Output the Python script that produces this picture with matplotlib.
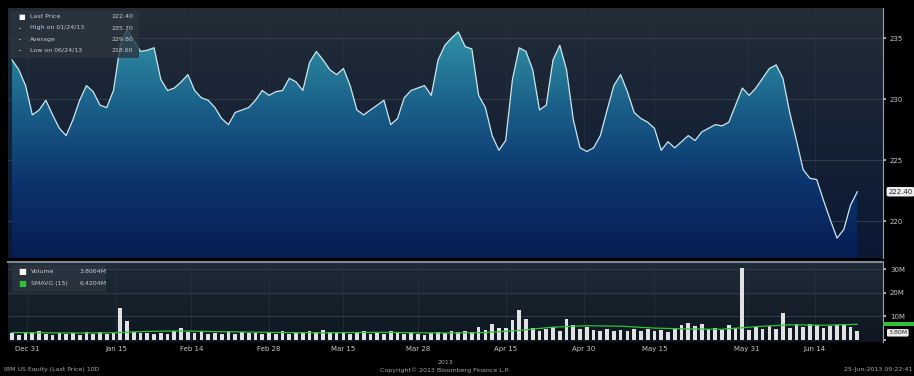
import matplotlib
matplotlib.use("Agg")
import matplotlib.pyplot as plt
import numpy as np
from matplotlib.colors import LinearSegmentedColormap
from matplotlib.patches import PathPatch

# trading-day index 0..125, daily close
PRICE = [
    233.2, 232.4, 231.1, 228.7, 229.1, 229.9, 228.7, 227.6, 227.0, 228.3,
    229.9, 231.1, 230.6, 229.5, 229.3, 230.7, 234.4, 235.7, 234.8, 233.9,
    234.0, 234.2, 231.6, 230.7, 230.9, 231.4, 232.0, 230.7, 230.1, 229.9,
    229.3, 228.4, 227.9, 228.9, 229.1, 229.3, 229.9, 230.7, 230.3, 230.6,
    230.7, 231.7, 231.4, 230.7, 233.0, 233.9, 233.2, 232.4, 232.0, 232.5,
    231.1, 229.1, 228.7, 229.1, 229.5, 229.9, 227.9, 228.4, 230.1, 230.7,
    230.9, 231.1, 230.3, 233.2, 234.4, 235.0, 235.5, 234.3, 234.1, 230.3,
    229.3, 227.0, 225.8, 226.6, 231.6, 234.2, 233.9, 232.4, 229.1, 229.5,
    233.2, 234.4, 232.4, 228.3, 226.0, 225.7, 226.0, 227.0, 229.1, 231.1,
    232.0, 230.6, 228.9, 228.4, 228.1, 227.6, 225.8, 226.5, 226.0, 226.5,
    227.0, 226.6, 227.3, 227.6, 227.9, 227.8, 228.1, 229.5, 230.9, 230.3,
    230.9, 231.7, 232.5, 232.8, 231.7, 228.9, 226.6, 224.2, 223.5, 223.4,
    221.7, 220.1, 218.6, 219.3, 221.3, 222.4,
]

# daily volume, millions
VOLUME = [
    3.0, 2.2, 3.4, 2.8, 3.6, 2.5, 2.0, 3.1, 2.4, 2.9,
    2.2, 3.3, 2.7, 3.5, 2.6, 2.9, 13.6, 8.2, 3.5, 2.8,
    3.1, 2.4, 3.0, 2.6, 3.9, 5.2, 3.4, 2.9, 3.8, 2.6,
    3.0, 2.5, 3.7, 2.4, 3.2, 2.8, 3.0, 2.6, 3.4, 2.5,
    3.6, 2.7, 3.1, 2.9, 3.9, 3.2, 4.1, 3.3, 2.8, 3.5,
    2.6, 3.0, 3.6, 2.7, 3.1, 2.4, 3.8, 2.9, 2.3, 3.0,
    2.6, 2.2, 2.8, 3.4, 3.0, 3.6, 3.2, 3.9, 3.5, 5.6,
    4.2, 6.8, 5.0, 5.0, 8.4, 12.8, 8.8, 5.2, 3.8, 4.4,
    5.6, 3.6, 9.0, 6.5, 4.8, 5.4, 4.2, 3.9, 4.6, 3.8,
    4.3, 3.6, 4.8, 3.9, 4.5, 3.7, 4.2, 3.5, 4.9, 6.4,
    7.2, 5.8, 6.6, 4.6, 5.2, 4.0, 6.2, 5.1, 30.5, 4.3,
    5.6, 4.8, 6.0, 4.4, 11.6, 5.0, 6.8, 5.4, 6.6, 6.2,
    4.9, 5.8, 6.4, 6.9, 5.5, 3.8,
]

SMA_DAYS = [0, 5, 10, 15, 20, 25, 30, 35, 40, 45, 50, 55, 60,
            65, 70, 75, 80, 85, 90, 95, 100, 105, 110, 115, 120, 125]
SMAVG = [3.1, 3.0, 2.9, 3.0, 3.6, 3.8, 3.5, 3.3, 3.1, 3.0, 3.1, 3.2, 3.0,
         2.9, 3.1, 4.0, 5.4, 6.0, 5.8, 5.0, 4.6, 4.5, 5.6, 6.4, 6.2, 6.6]

TICK_DAYS = [2.2, 15.4, 26.5, 38, 49, 60, 73, 84.6, 95, 108.7, 118.7]
TICK_LABELS = ["Dec 31", "Jan 15", "Feb 14", "Feb 28", "Mar 15", "Mar 28",
               "Apr 15", "Apr 30", "May 15", "May 31", "Jun 14"]

PRICE_TICKS = [220, 225, 230, 235]
VOL_TICKS = [10, 20, 30]
VOL_TICK_LABELS = ["10M", "20M", "30M"]

TXT = "#c8c8c8"
GRID = "#37424c"
FS = 5.0


def gradient_bg(ax, xlim, ylim, top, bottom, z=0):
    cmap = LinearSegmentedColormap.from_list("bg", [bottom, top])
    grad = np.linspace(0, 1, 256).reshape(-1, 1)
    ax.imshow(grad, extent=[xlim[0], xlim[1], ylim[0], ylim[1]], origin="lower",
              aspect="auto", cmap=cmap, zorder=z, interpolation="bicubic")


def style_axis(ax):
    for side in ["top", "left", "bottom"]:
        ax.spines[side].set_visible(False)
    ax.spines["right"].set_color("#9aa4ad")
    ax.spines["right"].set_linewidth(0.8)
    ax.yaxis.tick_right()
    ax.tick_params(axis="y", colors=TXT, labelsize=FS, length=2, width=1.2,
                   direction="out", pad=3)
    ax.tick_params(axis="x", colors=TXT, labelsize=FS, length=0)


def main():
    days = np.arange(len(PRICE))
    xlim = (-0.6, 128.8)

    fig = plt.figure(figsize=(9.14, 3.76), dpi=100, facecolor="black")
    ax = fig.add_axes([8 / 914, 1 - 258 / 376, 875 / 914, 250 / 376])
    axv = fig.add_axes([8 / 914, 1 - 342 / 376, 875 / 914, 80 / 376], sharex=ax)

    # price panel
    ylim = (216.97, 237.46)
    gradient_bg(ax, xlim, ylim, "#222d37", "#0a1834")
    poly = ax.fill_between(days, PRICE, ylim[0], color="none", lw=0)
    fill_cmap = LinearSegmentedColormap.from_list(
        "fill", ["#061d52", "#0c356e", "#1b628a", "#3396a8"])
    grad = np.linspace(0, 1, 256).reshape(-1, 1)
    img = ax.imshow(grad, extent=[xlim[0], xlim[1], ylim[0], 236.0], origin="lower",
                    aspect="auto", cmap=fill_cmap, zorder=2)
    clip = PathPatch(poly.get_paths()[0], transform=ax.transData,
                     facecolor="none", edgecolor="none")
    ax.add_patch(clip)
    img.set_clip_path(clip)
    ax.plot(days, PRICE, color="#cfe6ec", lw=0.9, zorder=4,
            solid_joinstyle="round")
    for p in PRICE_TICKS:
        ax.axhline(p, color=GRID, lw=0.6, zorder=1)
    for t in TICK_DAYS:
        ax.axvline(t, color="#27323c", lw=0.5, zorder=1)
    ax.set_xlim(*xlim)
    ax.set_ylim(*ylim)
    ax.set_yticks(PRICE_TICKS)
    ax.set_yticklabels([str(p) for p in PRICE_TICKS])
    style_axis(ax)
    ax.tick_params(axis="x", labelbottom=False)

    last = PRICE[-1]
    ax.text(1.006, last, f"{last:.2f}", transform=ax.get_yaxis_transform(),
            fontsize=FS, color="#222222", va="center", ha="left", zorder=6,
            bbox=dict(boxstyle="round,pad=0.25", fc="#eeeeee", ec="none"),
            clip_on=False)

    # price legend
    legend_lines = [("Last Price", f"{last:.2f}"),
                    ("High on 01/24/13", f"{max(PRICE):.2f}"),
                    ("Average", "229.80"),
                    ("Low on 06/24/13", f"{min(PRICE):.2f}")]
    ax.add_patch(plt.Rectangle((0.002, 0.80), 0.148, 0.19, transform=ax.transAxes,
                               fc="#2b353f", ec="none", alpha=0.8, zorder=7))
    for i, (name, val) in enumerate(legend_lines):
        y = 0.965 - i * 0.045
        ax.text(0.012, y, "\u25a0" if i == 0 else "-", transform=ax.transAxes,
                fontsize=FS, color="white", va="center", zorder=8)
        ax.text(0.025, y, name, transform=ax.transAxes, fontsize=FS - 0.5,
                color=TXT, va="center", zorder=8)
        ax.text(0.118, y, val, transform=ax.transAxes, fontsize=FS - 0.5,
                color=TXT, va="center", zorder=8)

    # volume panel
    vlim = (-0.9, 33.0)
    gradient_bg(axv, xlim, vlim, "#1f2c38", "#0d1620")
    for v in VOL_TICKS:
        axv.axhline(v, color=GRID, lw=0.6, zorder=1)
    for t in TICK_DAYS:
        axv.axvline(t, color="#27323c", lw=0.5, zorder=1)
    axv.bar(days, VOLUME, width=0.55, color="#e2e2e2", zorder=3)
    axv.plot(SMA_DAYS, SMAVG, color="#2fc13a", lw=0.9, zorder=4)
    axv.set_ylim(*vlim)
    axv.set_xlim(*xlim)
    axv.set_yticks([0] + VOL_TICKS)
    axv.set_yticklabels([""] + VOL_TICK_LABELS)
    style_axis(axv)
    axv.spines["top"].set_visible(True)
    axv.spines["top"].set_color("#7d8894")
    axv.spines["top"].set_linewidth(1.5)
    axv.set_xticks(TICK_DAYS)
    axv.set_xticklabels(TICK_LABELS)
    axv.tick_params(axis="x", pad=3)

    axv.add_patch(plt.Rectangle((1.0, SMAVG[-1] - 0.9), 0.04, 1.8,
                                transform=axv.get_yaxis_transform(), fc="#2fc13a",
                                ec="none", clip_on=False, zorder=6))
    axv.text(1.006, VOLUME[-1] - 0.8, f"{VOLUME[-1]:.2f}M",
             transform=axv.get_yaxis_transform(), fontsize=FS - 0.5,
             color="#222222", va="center", ha="left", zorder=6,
             bbox=dict(boxstyle="round,pad=0.2", fc="#eeeeee", ec="none"),
             clip_on=False)

    axv.add_patch(plt.Rectangle((0.004, 0.62), 0.108, 0.34, transform=axv.transAxes,
                                fc="#2a3540", ec="none", alpha=0.85, zorder=7))
    for i, (name, val, col) in enumerate([("Volume", "3.8064M", "white"),
                                           ("SMAVG (15)", "6.4204M", "#2fc13a")]):
        y = 0.88 - i * 0.15
        axv.text(0.012, y, "\u25a0", transform=axv.transAxes, fontsize=FS + 1,
                 color=col, va="center", zorder=8)
        axv.text(0.026, y, name, transform=axv.transAxes, fontsize=FS - 0.5,
                 color=TXT, va="center", zorder=8)
        axv.text(0.082, y, val, transform=axv.transAxes, fontsize=FS - 0.5,
                 color=TXT, va="center", zorder=8)

    # footer
    fig.text(445 / 914, 1 - 362 / 376, "2013", fontsize=FS - 0.5, color="#a8a8a8",
             ha="center", va="center")
    fig.text(445 / 914, 1 - 370 / 376, "Copyright\u00a9 2013 Bloomberg Finance L.P.",
             fontsize=FS - 0.5, color="#a8a8a8", ha="center", va="center")
    fig.text(4 / 914, 1 - 370 / 376, "IBM US Equity (Last Price) 10D",
             fontsize=FS - 0.5, color="#a8a8a8", ha="left", va="center")
    fig.text(912 / 914, 1 - 370 / 376, "25-Jun-2013 09:22:41",
             fontsize=FS - 0.5, color="#a8a8a8", ha="right", va="center")

    fig.savefig("out.png", dpi=100, facecolor="black")


if __name__ == "__main__":
    main()
